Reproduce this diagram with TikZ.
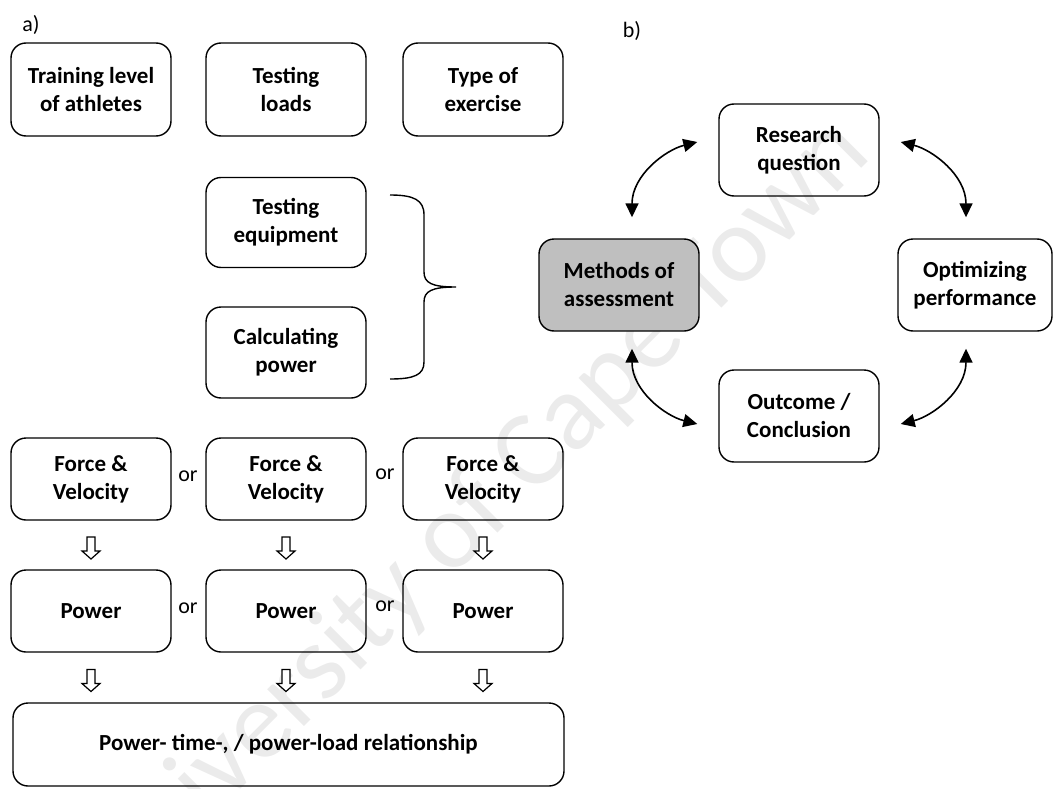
\documentclass[tikz,border=0pt]{standalone}
\usepackage{fontspec}
\setmainfont{Carlito}
\usetikzlibrary{arrows.meta,calc}
\tikzset{
  box/.style={draw, line width=1.4pt, rounded corners=15pt, align=center,
    inner sep=0pt, font=\bfseries\fontsize{23}{28}\selectfont},
  plain/.style={font=\fontsize{22}{26}\selectfont, inner sep=0pt},
  cyc/.style={line width=1.6pt,
    {Triangle[length=14pt,width=13pt]}-{Triangle[length=14pt,width=13pt]}},
  hollowdown/.pic={\draw[line width=1.2pt, fill=white]
    (-4,-11) -- (4,-11) -- (4,3) -- (9,3) -- (0,11) -- (-9,3) -- (-4,3) -- cycle;},
  mark text/.style={text=black!8, font=\fontsize{109}{109}\selectfont, rotate=45, inner sep=0pt}
}
\begin{document}
\begin{tikzpicture}[x=1pt,y=-1pt]
\useasboundingbox (0,0) rectangle (1054,789);

% faint background lettering
\node[mark text] (wm) at (476,514) {University of Cape Town};

% panel labels
\node[plain] (la) at (31,25) {a)};
\node[plain] (lb) at (632,31) {b)};

% ---------- panel a ----------
\node[box, minimum width=160pt, minimum height=93pt] (t1) at (91,89.5) {Training level\\of athletes};
\node[box, minimum width=160pt, minimum height=93pt] (t2) at (286,89.5) {Testing\\loads};
\node[box, minimum width=160pt, minimum height=93pt] (t3) at (483,89.5) {Type of\\exercise};

\node[box, minimum width=160pt, minimum height=90pt] (eq) at (286,222.5) {Testing\\equipment};
\node[box, minimum width=160pt, minimum height=91pt] (cp) at (286,352.5) {Calculating\\power};

% curly bracket joining the two method boxes
\draw[line width=1.4pt]
  (390,195) .. controls (414,195) and (424,200) .. (424,215) -- (424,272)
  .. controls (424,283) and (432,287) .. (456,287)
  .. controls (432,287) and (424,291) .. (424,302) -- (424,362)
  .. controls (424,375) and (414,379) .. (390,379);

\node[box, minimum width=160pt, minimum height=82pt] (f1) at (91,479) {Force \&\\Velocity};
\node[box, minimum width=160pt, minimum height=82pt] (f2) at (286,479) {Force \&\\Velocity};
\node[box, minimum width=160pt, minimum height=82pt] (f3) at (483,479) {Force \&\\Velocity};
\node[plain] (o1) at (188,476) {or};
\node[plain] (o2) at (385,474) {or};

\node[box, minimum width=160pt, minimum height=82pt] (p1) at (91,611) {Power};
\node[box, minimum width=160pt, minimum height=82pt] (p2) at (286,611) {Power};
\node[box, minimum width=160pt, minimum height=82pt] (p3) at (483,611) {Power};
\node[plain] (o3) at (188,608) {or};
\node[plain] (o4) at (385,606) {or};

\node[box, minimum width=551pt, minimum height=83pt] (rel) at (288.5,744.5) {Power- time-, / power-load relationship};

% hollow arrows between the rows
\foreach \a/\b in {f1/p1,f2/p2,f3/p3,p1/rel,p2/rel,p3/rel}{
  \path let \p1=(\a.south), \p2=(\b.north) in
    pic at (\x1, {0.5*(\y1+\y2)/1pt - 3}) {hollowdown};
}

% ---------- panel b ----------
\node[box, minimum width=160pt, minimum height=92pt] (rq) at (799,150) {Research\\question};
\node[box, minimum width=160pt, minimum height=92pt, fill=black!25] (ma) at (619,285) {Methods of\\assessment};
\node[box, minimum width=154pt, minimum height=92pt] (op) at (975,285) {Optimizing\\performance};
\node[box, minimum width=160pt, minimum height=92pt] (oc) at (799,416) {Outcome /\\Conclusion};

% arrow end points around the cycle
\coordinate (a1) at ([shift={(13,-21)}]ma.north);
\coordinate (a2) at ([shift={(-21,-8)}]rq.west);
\coordinate (b1) at ([shift={(21,-8)}]rq.east);
\coordinate (b2) at ([shift={(-9,-21)}]op.north);
\coordinate (c1) at ([shift={(13,17)}]ma.south);
\coordinate (c2) at ([shift={(-21,8)}]oc.west);
\coordinate (d1) at ([shift={(21,8)}]oc.east);
\coordinate (d2) at ([shift={(-9,17)}]op.south);

\draw[cyc] (a1) .. controls ($(a1)+(0,-42)$) and ($(a2)+(-32,8)$) .. (a2);
\draw[cyc] (b1) .. controls ($(b1)+(32,8)$) and ($(b2)+(0,-42)$) .. (b2);
\draw[cyc] (c1) .. controls ($(c1)+(0,42)$) and ($(c2)+(-32,-8)$) .. (c2);
\draw[cyc] (d1) .. controls ($(d1)+(32,-8)$) and ($(d2)+(0,42)$) .. (d2);
\end{tikzpicture}
\end{document}
